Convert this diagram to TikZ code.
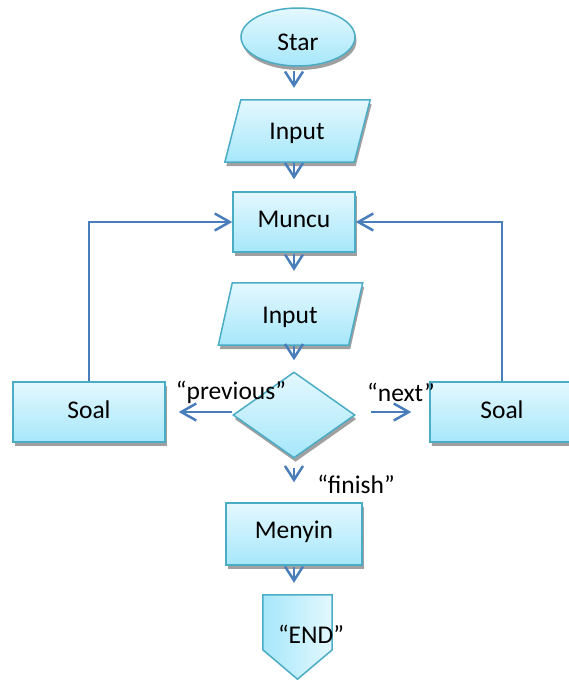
\documentclass[tikz,border=0pt]{standalone}
\usepackage{fontspec}
\setmainfont{Carlito}
\usetikzlibrary{shapes.geometric,shadows,arrows.meta,calc}
\definecolor{bord}{HTML}{4BACC6}
\definecolor{arrc}{HTML}{4A7EBB}
\definecolor{ftop}{HTML}{E4F8FE}
\definecolor{fbot}{HTML}{A6E7FA}
\definecolor{shad}{HTML}{A0A0A0}
\begin{document}
\begin{tikzpicture}[x=1pt,y=-1pt,
  font=\fontsize{25.5}{30}\selectfont,
  shp/.style={draw=bord, line width=1.5pt, top color=ftop, bottom color=fbot,
    drop shadow={shadow xshift=1.5pt, shadow yshift=-4pt, fill=shad, opacity=1}},
  boxnode/.style={shp, rectangle, inner sep=0pt},
  txt/.style={inner sep=0pt},
  arr/.style={draw=arrc, line width=2.5pt, -{Straight Barb[length=14pt,width=18pt]}},
  harr/.style={draw=arrc, line width=2.5pt, -{Straight Barb[length=15pt,width=17pt]}}]
\useasboundingbox (0,0) rectangle (569,680);
\clip (0,0) rectangle (569,680);

% Start
\node[shp, ellipse, minimum width=114pt, minimum height=58pt, inner sep=0pt] (star) at (298,37) {};
\node[txt] (startxt) at (298,42) {Star};

% Input 1 (parallelogram)
\node[txt, minimum width=129pt, minimum height=62pt] (in1) at (297.5,131) {};
\path[shp] ($(in1.north west)+(8,0)$) -- ($(in1.north east)+(8,0)$) -- ($(in1.south east)+(-8,0)$) -- ($(in1.south west)+(-8,0)$) -- cycle;
\node[txt] (in1txt) at (297,133) {Input};

% Muncu
\node[boxnode, minimum width=122pt, minimum height=60pt] (muncu) at (294,222) {};
\node[txt] (muncutxt) at (294,219) {Muncu};

% Input 2
\node[txt, minimum width=130pt, minimum height=62pt] (in2) at (290.5,314) {};
\path[shp] ($(in2.north west)+(7,0)$) -- ($(in2.north east)+(7,0)$) -- ($(in2.south east)+(-7,0)$) -- ($(in2.south west)+(-7,0)$) -- cycle;
\node[txt] (in2txt) at (290,317) {Input};

% Decision
\node[shp, diamond, minimum width=122pt, minimum height=86pt, aspect=1.42, inner sep=0pt] (dia) at (294,415) {};

% Soal boxes
\node[boxnode, minimum width=152pt, minimum height=60pt] (soalL) at (89,412) {};
\node[txt] (soalLtxt) at (89,410) {Soal};
\node[boxnode, minimum width=144pt, minimum height=60pt] (soalR) at (502,412) {};
\node[txt] (soalRtxt) at (502,410) {Soal};

% Menyin
\node[boxnode, minimum width=136pt, minimum height=62pt] (menyin) at (294,534) {};
\node[txt] (menyintxt) at (294,532) {Menyin};

% END (off-page connector)
\node[txt, minimum width=69pt, minimum height=84pt] (endb) at (297.5,637) {};
\path[draw=bord, line width=1.5pt, left color=fbot, right color=ftop]
  (endb.north west) -- (endb.north east) -- ($(endb.north east)+(0,55)$) -- (endb.south) -- ($(endb.north west)+(0,55)$) -- cycle;
\node[txt] (endtxt) at (311,634) {“END”};

% Labels
\node[txt] (lprev) at (231,392) {“previous”};
\node[txt] (lnext) at (401,392) {“next”};
\node[txt] (lfin) at (356,484) {“finish”};

% Vertical arrows
\draw[arr] ($(star.south -| muncu)+(0,4)$) -- ($(in1.north -| muncu)+(0,-12)$);
\draw[arr] ($(in1.south -| muncu)+(0,1)$) -- ($(muncu.north)+(0,-12)$);
\draw[arr] ($(muncu.south)+(0,1)$) -- ($(in2.north -| muncu)+(0,-12)$);
\draw[arr] ($(in2.south -| muncu)+(0,1)$) -- ($(dia.north)+(0,-11)$);
\draw[arr] ($(dia.south)+(0,9)$) -- ($(menyin.north)+(0,-20)$);
\draw[arr] ($(menyin.south)+(0,1)$) -- ($(endb.north -| muncu)+(0,-12)$);

% Horizontal arrows
\draw[harr] ($(dia.west)+(0,-3)$) -- ($(soalL.east |- dia.west)+(13,-3)$);
\draw[harr] ($(dia.east)+(15,-3)$) -- ($(soalR.west |- dia.east)+(-18,-3)$);

% Loops back
\draw[harr] (soalL.north) |- (muncu.west);
\draw[harr] (soalR.north) |- (muncu.east);
\end{tikzpicture}
\end{document}
